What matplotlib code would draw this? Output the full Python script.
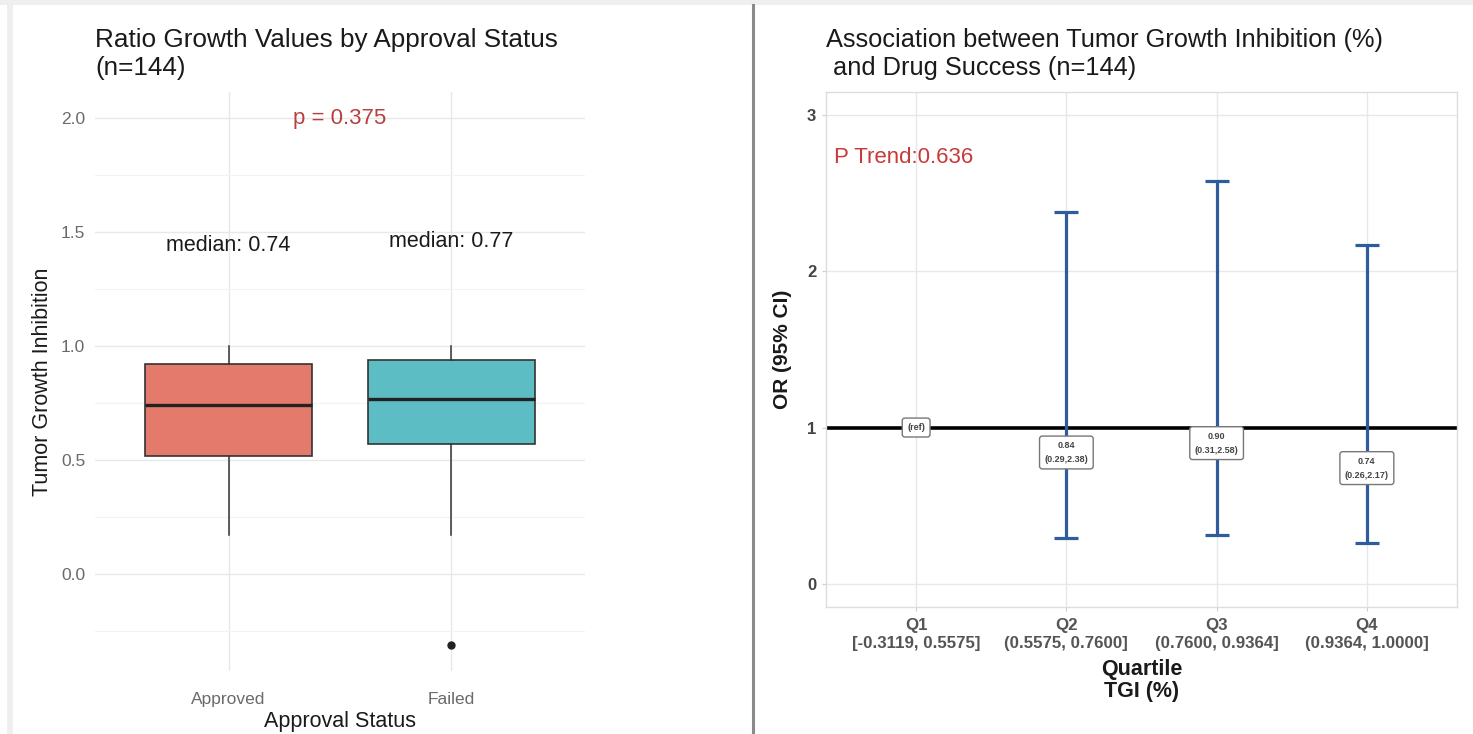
import matplotlib
matplotlib.use("Agg")
import matplotlib.pyplot as plt
import matplotlib.patches as patches
from matplotlib.lines import Line2D

plt.rcParams['font.family'] = ['Liberation Sans', 'DejaVu Sans']

# ---- left panel data: box summaries ----
groups = ['Approved', 'Failed']
box_q1 = [0.52, 0.57]
box_med = [0.74, 0.77]
box_q3 = [0.92, 0.94]
whisk_lo = [0.17, 0.17]
whisk_hi = [1.00, 1.00]
outliers = [[], [-0.31]]
box_colors = ['#E47A6B', '#5DBDC5']
median_text_y = [1.44, 1.46]
p_value = 0.375

# ---- right panel data: odds ratios by TGI quartile ----
quartiles = ['Q1', 'Q2', 'Q3', 'Q4']
quartile_ranges = ['[-0.3119, 0.5575]', '(0.5575, 0.7600]', '(0.7600, 0.9364]', '(0.9364, 1.0000]']
odds = [1.00, 0.84, 0.90, 0.74]
ci_lo = [None, 0.29, 0.31, 0.26]
ci_hi = [None, 2.38, 2.58, 2.17]
p_trend = 0.636

fig = plt.figure(figsize=(14.73, 7.34), dpi=100)
fig.patch.set_facecolor('white')

# light grey frame strips and divider, as in the screenshot
fig.add_artist(patches.Rectangle((0, 1 - 5 / 734), 1, 5 / 734, transform=fig.transFigure,
                                 facecolor='#EFEFEF', edgecolor='none'))
fig.add_artist(patches.Rectangle((7 / 1473, 0), 6 / 1473, 1, transform=fig.transFigure,
                                 facecolor='#EFEFEF', edgecolor='none'))
fig.add_artist(Line2D([752.5 / 1473, 752.5 / 1473], [0, 1 - 5 / 734], transform=fig.transFigure,
                      color='#8A8A8A', lw=2.2))

# ================= left: boxplot =================
ax1 = fig.add_axes([95 / 1473, 1 - 671 / 734, 490 / 1473, 579 / 734])
stats = []
for i, g in enumerate(groups):
    stats.append(dict(label=g, med=box_med[i], q1=box_q1[i], q3=box_q3[i],
                      whislo=whisk_lo[i], whishi=whisk_hi[i], fliers=outliers[i]))
pos = list(range(1, len(groups) + 1))
bp = ax1.bxp(stats, positions=pos, widths=0.75, patch_artist=True, showcaps=False,
             boxprops=dict(edgecolor='#333333', linewidth=1.2),
             medianprops=dict(color='#222222', linewidth=2.4),
             whiskerprops=dict(color='#333333', linewidth=1.1),
             flierprops=dict(marker='o', markerfacecolor='#222222', markeredgecolor='#222222',
                             markersize=5))
for b, c in zip(bp['boxes'], box_colors):
    b.set_facecolor(c)
for b in bp['boxes'] + bp['medians'] + bp['whiskers'] + bp['fliers']:
    b.set_zorder(3)

for i in range(len(groups)):
    ax1.text(pos[i], median_text_y[i], f'median: {box_med[i]:.2f}', ha='center', va='center',
             fontsize=15.5, color='#1A1A1A')
ax1.text(1.5, 2.0, f'p = {p_value}', ha='center', va='center', fontsize=16, color='#B5413F')

ax1.set_xlim(0.4, 2.6)
ax1.set_ylim(-0.4255, 2.1155)
ax1.set_yticks([0.0, 0.5, 1.0, 1.5, 2.0])
ax1.set_yticks([-0.25, 0.25, 0.75, 1.25, 1.75], minor=True)
ax1.set_yticklabels(['0.0', '0.5', '1.0', '1.5', '2.0'])
ax1.set_xticks(pos)
ax1.set_xticklabels(groups)
ax1.grid(True, which='major', color='#E8E8E8', lw=1.0, zorder=0)
ax1.grid(True, which='minor', axis='y', color='#F2F2F2', lw=0.8, zorder=0)
ax1.set_axisbelow(True)
for s in ax1.spines.values():
    s.set_visible(False)
ax1.tick_params(which='both', length=0, labelsize=12.5, colors='#6A6A6A')
ax1.tick_params(axis='x', pad=15)
ax1.tick_params(axis='y', pad=7)
ax1.set_xlabel('Approval Status', fontsize=15.5, color='#1A1A1A', labelpad=3)
ax1.set_ylabel('Tumor Growth Inhibition', fontsize=15.5, color='#1A1A1A', labelpad=6)
ax1.set_title('Ratio Growth Values by Approval Status\n(n=144)', loc='left', fontsize=18.8,
              color='#1A1A1A', pad=12, linespacing=1.25)

# ================= right: odds ratio plot =================
ax2 = fig.add_axes([826 / 1473, 1 - 607 / 734, 631 / 1473, 515 / 734])
xq = list(range(1, len(quartiles) + 1))
ax2.axhline(1, color='black', lw=2.6, zorder=2)
for i in range(len(quartiles)):
    if ci_lo[i] is None:
        continue
    ax2.errorbar(xq[i], odds[i], yerr=[[odds[i] - ci_lo[i]], [ci_hi[i] - odds[i]]],
                 fmt='none', ecolor='#2F5C9C', elinewidth=2.3, capsize=8.6, capthick=2.3, zorder=3)
for i in range(len(quartiles)):
    if ci_lo[i] is None:
        lab = '(ref)'
    else:
        lab = f'{odds[i]:.2f}\n({ci_lo[i]:.2f},{ci_hi[i]:.2f})'
    ax2.text(xq[i], odds[i], lab, ha='center', va='center', fontsize=6.5, fontweight='bold',
             color='#444444', linespacing=1.7, zorder=4,
             bbox=dict(boxstyle='round,pad=0.55,rounding_size=0.3', facecolor='white',
                       edgecolor='#777777', lw=1.0))
ax2.text(0.45, 2.73, f'P Trend:{p_trend}', ha='left', va='center', fontsize=16, color='#C83A3A')

ax2.set_xlim(0.4, 4.6)
ax2.set_ylim(-0.15, 3.15)
ax2.set_yticks([0, 1, 2, 3])
ax2.set_xticks(xq)
ax2.set_xticklabels([f'{q}\n{r}' for q, r in zip(quartiles, quartile_ranges)], linespacing=1.2)
ax2.grid(True, color='#E8E8E8', lw=1.0, zorder=0)
ax2.set_axisbelow(True)
for s in ax2.spines.values():
    s.set_color('#DDDDDD')
    s.set_linewidth(1.0)
ax2.tick_params(length=3, color='#CFCFCF', width=0.8)
ax2.tick_params(axis='x', labelsize=12.2, labelcolor='#555555', pad=5)
ax2.tick_params(axis='y', labelsize=12, labelcolor='#444444', pad=4)
for t in ax2.get_xticklabels() + ax2.get_yticklabels():
    t.set_fontweight('bold')
ax2.set_xlabel('Quartile\nTGI (%)', fontsize=15.5, fontweight='bold', color='#1A1A1A',
               labelpad=6, linespacing=1.05)
ax2.set_ylabel('OR (95% CI)', fontsize=15, fontweight='bold', color='#1A1A1A', labelpad=11)
ax2.set_title('Association between Tumor Growth Inhibition (%)\n and Drug Success (n=144)',
              loc='left', fontsize=18.3, color='#1A1A1A', pad=12, linespacing=1.25)

fig.savefig('out.png', dpi=100)
